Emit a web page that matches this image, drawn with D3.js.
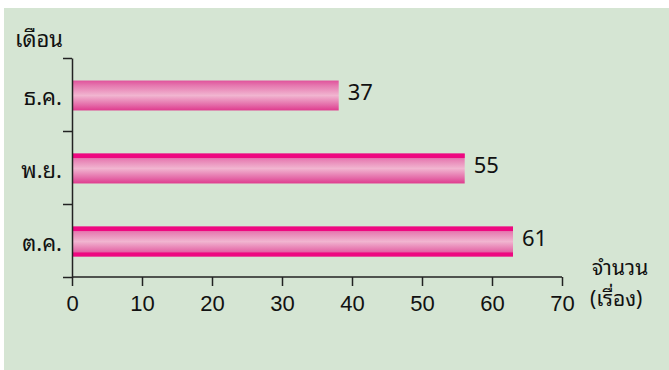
<!DOCTYPE html>
<html><head><meta charset="utf-8">
<script src="https://cdn.jsdelivr.net/npm/d3@7"></script>
<style>
html,body{margin:0;padding:0;background:#fff;}
svg{display:block;}
text{font-family:"Noto Sans Thai Looped","Noto Sans Thai","Noto Sans","DejaVu Sans",sans-serif;fill:#111;}
</style></head>
<body>
<script>
// Data
const categories = ["ธ.ค.", "พ.ย.", "ต.ค."];
const valueLabels = [37, 55, 61];           // printed values
const barLengths = [38.1, 56.1, 63];        // bar ends as drawn in the picture
const xTicks = [0, 10, 20, 30, 40, 50, 60, 70];
const yTitle = "เดือน";
const xTitle = ["จำนวน", "(เรื่อง)"];

(function () {
const W = 669, H = 370;
const svg = d3.select("body").append("svg").attr("width", W).attr("height", H);

svg.append("rect").attr("x", 4).attr("y", 8).attr("width", W - 4).attr("height", H - 8).attr("fill", "#d5e5d3");

const defs = svg.append("defs");
const g = defs.append("linearGradient").attr("id", "pinkGrad").attr("x1", 0).attr("y1", 0).attr("x2", 0).attr("y2", 1);
[[0, "#e0529b"], [0.18, "#e67bb1"], [0.5, "#f1b5d0"], [0.82, "#e46aa8"], [1, "#df3b8e"]]
  .forEach(([o, c]) => g.append("stop").attr("offset", o).attr("stop-color", c));

const x = d3.scaleLinear().domain([0, 70]).range([72, 562]);
const yTop = 58, yBottom = 277;
const y = d3.scaleBand().domain(categories).range([yTop, yBottom]).paddingInner(0.59).paddingOuter(0.295);
const yEdge = d3.scaleLinear().domain([0, categories.length]).range([yTop, yBottom]);

// bars
const bars = svg.append("g");
categories.forEach((c, i) => {
  const by = y(c) + 1, bh = y.bandwidth();
  bars.append("rect").attr("x", x(0)).attr("y", by).attr("width", x(barLengths[i]) - x(0)).attr("height", bh).attr("fill", "url(#pinkGrad)");
  if (i >= 1) {
    bars.append("rect").attr("x", x(0)).attr("y", by).attr("width", x(barLengths[i]) - x(0)).attr("height", 4.5).attr("fill", "#ee0880");
  }
  if (i >= 2) {
    bars.append("rect").attr("x", x(0)).attr("y", by + bh - 4).attr("width", x(barLengths[i]) - x(0)).attr("height", 4).attr("fill", "#ee0880");
  }
  svg.append("text").attr("x", x(barLengths[i]) + 9).attr("y", by + bh / 2 + 4.5)
    .attr("font-size", 22).text(valueLabels[i]);
  svg.append("text").attr("x", 62).attr("y", by + bh / 2 + 9).attr("text-anchor", "end")
    .attr("font-size", 22).text(c);
});

// y axis
const yAx = svg.append("g").attr("transform", `translate(${x(0)},0)`)
  .call(d3.axisLeft(yEdge).tickValues(d3.range(categories.length + 1)).tickSize(9).tickSizeOuter(0).tickFormat(""));
yAx.selectAll("path,line").attr("stroke", "#222").attr("stroke-width", 1.5);

// x axis
const xAx = svg.append("g").attr("transform", `translate(0,${yBottom})`)
  .call(d3.axisBottom(x).tickValues(xTicks).tickSize(9).tickSizeOuter(0).tickPadding(8));
xAx.selectAll("path,line").attr("stroke", "#222").attr("stroke-width", 1.5);
xAx.select(".domain").attr("d", `M${x(0)},0H${x(70)}`);
xAx.selectAll("text").attr("font-size", 22).attr("fill", "#111")
  .style("font-family", '"Liberation Sans Narrow","Liberation Sans",sans-serif').attr("dy", "0.75em");

// titles
svg.append("text").attr("x", 15).attr("y", 47).attr("font-size", 22).text(yTitle);
svg.append("text").attr("x", 592).attr("y", 275).attr("font-size", 21).text(xTitle[0]);
svg.append("text").attr("x", 590).attr("y", 306).attr("font-size", 21).text(xTitle[1]);
})();
</script>
</body></html>
